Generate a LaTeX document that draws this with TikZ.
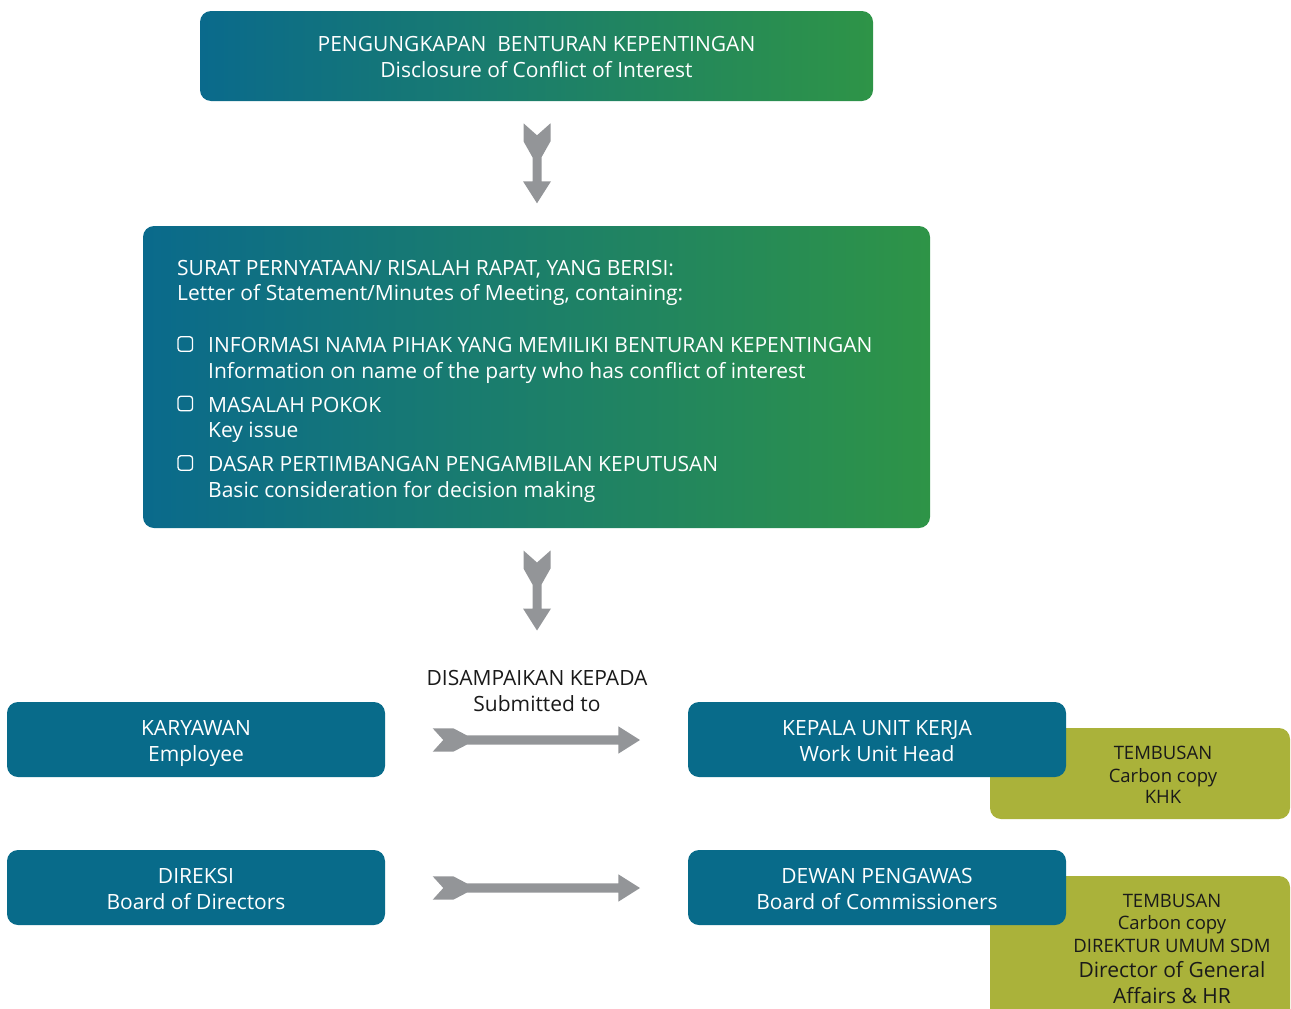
\documentclass[tikz,border=0pt]{standalone}
\usepackage{fontspec}
\setmainfont{Open Sans}
\definecolor{deepteal}{HTML}{086B8A}
\definecolor{gradblue}{HTML}{0A6A8C}
\definecolor{gradgreen}{HTML}{2E9447}
\definecolor{olive}{HTML}{AAB23A}
\definecolor{arrowgray}{HTML}{939598}
\definecolor{inkdark}{HTML}{1A1A1A}
\tikzset{
  gradbox/.style={rounded corners=11pt, left color=gradblue, right color=gradgreen, draw=none},
  bluebox/.style={rounded corners=11pt, fill=deepteal, draw=none,
    minimum width=378pt, minimum height=75pt},
  olivebox/.style={rounded corners=11pt, fill=olive, draw=none, minimum width=300pt},
  whiteline/.style={text=white, inner sep=0pt, anchor=base, font=\fontsize{21}{26}\selectfont},
  boxtext/.style={whiteline, anchor=base west},
  olivetext/.style={text=inkdark, inner sep=0pt, anchor=base},
  ccsmall/.style={olivetext, font=\fontsize{18.5}{22}\selectfont},
  cclarge/.style={olivetext, font=\fontsize{21}{26}\selectfont},
  tickbox/.style={draw=white, line width=1.3pt, rounded corners=2.8pt, minimum size=14.5pt, inner sep=0pt},
  downarrow/.pic={
    \fill[arrowgray] (-13.5,0) -- (0,12) -- (13.5,0) -- (13.5,18) -- (4.5,34) -- (4.5,58)
      -- (14,58) -- (0,80) -- (-14,58) -- (-4.5,58) -- (-4.5,34) -- (-13.5,18) -- cycle;
  },
  rightarrow/.pic={
    \fill[arrowgray] (0,-11.7) -- (20.6,-11.7) -- (34,-4.7) -- (185.6,-4.7) -- (185.6,-13.7)
      -- (207.3,0) -- (185.6,13.7) -- (185.6,4.7) -- (34,4.7) -- (20.6,11.7) -- (0,11.7)
      -- (10.6,0) -- cycle;
  }
}
\begin{document}
\begin{tikzpicture}[x=1pt,y=-1pt]
\useasboundingbox (0,0) rectangle (1291,1009);
\begin{scope}
\clip (0,0) rectangle (1291,1009);

% top heading box
\node[gradbox, minimum width=673pt, minimum height=90pt] (disclosure) at (536.5,56) {};
\node[whiteline] (disclosureA) at (536.5,51.5) {PENGUNGKAPAN\ \ BENTURAN KEPENTINGAN};
\node[whiteline] (disclosureB) at (536.5,77.5) {Disclosure of Conflict of Interest};

% statement box
\node[gradbox, minimum width=787pt, minimum height=302pt] (statement) at (536.5,377) {};
\node[boxtext] (stmtA) at (177,275) {SURAT PERNYATAAN/ RISALAH RAPAT, YANG BERISI:};
\node[boxtext] (stmtB) at (177,300) {Letter of Statement/Minutes of Meeting, containing:};

\node[tickbox] (chkA) at (185.3,344) {};
\node[boxtext] (itemA) at (208,352.5) {INFORMASI NAMA PIHAK YANG MEMILIKI BENTURAN KEPENTINGAN};
\node[boxtext] (itemAen) at (208,378) {Information on name of the party who has conflict of interest};

\node[tickbox] (chkB) at (185.3,403.5) {};
\node[boxtext] (itemB) at (208,412) {MASALAH POKOK};
\node[boxtext] (itemBen) at (208,437) {Key issue};

\node[tickbox] (chkC) at (185.3,463) {};
\node[boxtext] (itemC) at (208,471.5) {DASAR PERTIMBANGAN PENGAMBILAN KEPUTUSAN};
\node[boxtext] (itemCen) at (208,497) {Basic consideration for decision making};

% downward arrows between the upper boxes
\coordinate (arrowA) at (537,123.3);
\coordinate (arrowB) at (537,550.5);
\pic at (arrowA) {downarrow};
\pic at (arrowB) {downarrow};

% submitted-to label
\node[cclarge] (submitA) at (537,685.5) {DISAMPAIKAN KEPADA};
\node[cclarge] (submitB) at (537,711.5) {Submitted to};

% carbon copy boxes (behind the recipient boxes)
\node[olivebox, minimum height=91pt] (ccA) at (1140,773.5) {};
\node[ccsmall] (ccA1) at (1163,759) {TEMBUSAN};
\node[ccsmall] (ccA2) at (1163,782) {Carbon copy};
\node[ccsmall] (ccA3) at (1163,803) {KHK};

\node[olivebox, minimum height=150pt] (ccB) at (1140,951) {};
\node[ccsmall] (ccB1) at (1172,907) {TEMBUSAN};
\node[ccsmall] (ccB2) at (1172,929) {Carbon copy};
\node[ccsmall] (ccB3) at (1172,952) {DIREKTUR UMUM SDM};
\node[cclarge] (ccB4) at (1172,977) {Director of General};
\node[cclarge] (ccB5) at (1172,1003) {Affairs \& HR};

% senders and recipients
\node[bluebox] (employee) at (196,739.5) {};
\node[whiteline] (employeeA) at (196,735.5) {KARYAWAN};
\node[whiteline] (employeeB) at (196,761.5) {Employee};
\node[bluebox] (unithead) at (877,739.5) {};
\node[whiteline] (unitheadA) at (877,735.5) {KEPALA UNIT KERJA};
\node[whiteline] (unitheadB) at (877,761.5) {Work Unit Head};
\node[bluebox] (directors) at (196,887.5) {};
\node[whiteline] (directorsA) at (196,883.5) {DIREKSI};
\node[whiteline] (directorsB) at (196,909.5) {Board of Directors};
\node[bluebox] (commissioners) at (877,887.5) {};
\node[whiteline] (commissionersA) at (877,883.5) {DEWAN PENGAWAS};
\node[whiteline] (commissionersB) at (877,909.5) {Board of Commissioners};

% horizontal arrows
\coordinate (arrowC) at (432.7,740);
\coordinate (arrowD) at (432.7,888);
\pic at (arrowC) {rightarrow};
\pic at (arrowD) {rightarrow};
\end{scope}
\end{tikzpicture}
\end{document}
